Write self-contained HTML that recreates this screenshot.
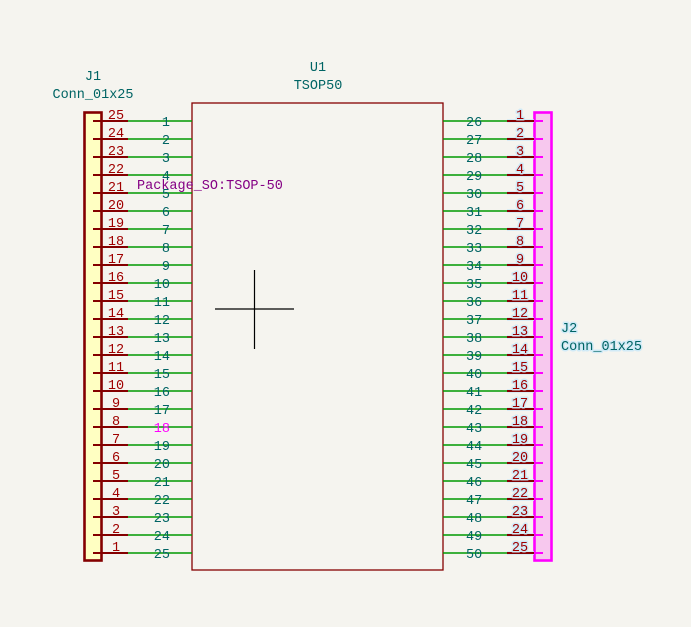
<!DOCTYPE html>
<html><head><meta charset="utf-8"><style>
html,body{margin:0;padding:0;background:#f5f4ef;}
svg{display:block;}
text{font-family:"Liberation Mono",monospace;font-size:13.5px;}
.t{fill:#006464;}
.r{fill:#a00000;}
.h{paint-order:stroke;stroke:#d0eaf7;stroke-width:3px;stroke-linejoin:round;}
</style></head><body>
<svg width="691" height="627" viewBox="0 0 691 627" xmlns="http://www.w3.org/2000/svg">
<rect width="691" height="627" fill="#f5f4ef"/>
<rect x="192" y="103" width="251" height="467" fill="none" stroke="#840000" stroke-width="1.3"/>
<path d="M215 309H294M254.5 270V349" stroke="#000" stroke-width="1.2"/>
<rect x="84.5" y="112.5" width="17" height="448" fill="#ffffc2" stroke="#840000" stroke-width="2.6"/>
<rect x="534.5" y="112.5" width="17" height="448" fill="#f7c8ee" stroke="#ff00ff" stroke-width="2.6"/>
<g id="rows">
<path stroke="#009a00" stroke-width="1.4" fill="none" d="M128 121H192M128 139H192M128 157H192M128 175H192M128 193H192M128 211H192M128 229H192M128 247H192M128 265H192M128 283H192M128 301H192M128 319H192M128 337H192M128 355H192M128 373H192M128 391H192M128 409H192M128 427H192M128 445H192M128 463H192M128 481H192M128 499H192M128 517H192M128 535H192M128 553H192
M443 121H507M443 139H507M443 157H507M443 175H507M443 193H507M443 211H507M443 229H507M443 247H507M443 265H507M443 283H507M443 301H507M443 319H507M443 337H507M443 355H507M443 373H507M443 391H507M443 409H507M443 427H507M443 445H507M443 463H507M443 481H507M443 499H507M443 517H507M443 535H507M443 553H507"/>
<path stroke="#840000" stroke-width="2" fill="none" d="M93 121H128M93 139H128M93 157H128M93 175H128M93 193H128M93 211H128M93 229H128M93 247H128M93 265H128M93 283H128M93 301H128M93 319H128M93 337H128M93 355H128M93 373H128M93 391H128M93 409H128M93 427H128M93 445H128M93 463H128M93 481H128M93 499H128M93 517H128M93 535H128M93 553H128"/>
<path stroke="#d0eaf7" stroke-width="3.5" fill="none" d="M507 121H534M507 139H534M507 157H534M507 175H534M507 193H534M507 211H534M507 229H534M507 247H534M507 265H534M507 283H534M507 301H534M507 319H534M507 337H534M507 355H534M507 373H534M507 391H534M507 409H534M507 427H534M507 445H534M507 463H534M507 481H534M507 499H534M507 517H534M507 535H534M507 553H534"/>
<path stroke="#840000" stroke-width="2" fill="none" d="M507 121H534M507 139H534M507 157H534M507 175H534M507 193H534M507 211H534M507 229H534M507 247H534M507 265H534M507 283H534M507 301H534M507 319H534M507 337H534M507 355H534M507 373H534M507 391H534M507 409H534M507 427H534M507 445H534M507 463H534M507 481H534M507 499H534M507 517H534M507 535H534M507 553H534"/>
<path stroke="#ff00ff" stroke-width="2" fill="none" d="M534 121H543M534 139H543M534 157H543M534 175H543M534 193H543M534 211H543M534 229H543M534 247H543M534 265H543M534 283H543M534 301H543M534 319H543M534 337H543M534 355H543M534 373H543M534 391H543M534 409H543M534 427H543M534 445H543M534 463H543M534 481H543M534 499H543M534 517H543M534 535H543M534 553H543"/>
</g>
<g class="r" text-anchor="middle">
<text x="116" y="119">25</text><text x="116" y="137">24</text><text x="116" y="155">23</text><text x="116" y="173">22</text><text x="116" y="191">21</text><text x="116" y="209">20</text><text x="116" y="227">19</text><text x="116" y="245">18</text><text x="116" y="263">17</text><text x="116" y="281">16</text><text x="116" y="299">15</text><text x="116" y="317">14</text><text x="116" y="335">13</text><text x="116" y="353">12</text><text x="116" y="371">11</text><text x="116" y="389">10</text><text x="116" y="407">9</text><text x="116" y="425">8</text><text x="116" y="443">7</text><text x="116" y="461">6</text><text x="116" y="479">5</text><text x="116" y="497">4</text><text x="116" y="515">3</text><text x="116" y="533">2</text><text x="116" y="551">1</text>
</g>
<g class="t" text-anchor="end">
<text x="170" y="126">1</text><text x="170" y="144">2</text><text x="170" y="162">3</text><text x="170" y="180">4</text><text x="170" y="198">5</text><text x="170" y="216">6</text><text x="170" y="234">7</text><text x="170" y="252">8</text><text x="170" y="270">9</text><text x="170" y="288">10</text><text x="170" y="306">11</text><text x="170" y="324">12</text><text x="170" y="342">13</text><text x="170" y="360">14</text><text x="170" y="378">15</text><text x="170" y="396">16</text><text x="170" y="414">17</text><text x="170" y="432" fill="#ff00ff">18</text><text x="170" y="450">19</text><text x="170" y="468">20</text><text x="170" y="486">21</text><text x="170" y="504">22</text><text x="170" y="522">23</text><text x="170" y="540">24</text><text x="170" y="558">25</text>
</g>
<g class="t">
<text x="466" y="126">26</text><text x="466" y="144">27</text><text x="466" y="162">28</text><text x="466" y="180">29</text><text x="466" y="198">30</text><text x="466" y="216">31</text><text x="466" y="234">32</text><text x="466" y="252">33</text><text x="466" y="270">34</text><text x="466" y="288">35</text><text x="466" y="306">36</text><text x="466" y="324">37</text><text x="466" y="342">38</text><text x="466" y="360">39</text><text x="466" y="378">40</text><text x="466" y="396">41</text><text x="466" y="414">42</text><text x="466" y="432">43</text><text x="466" y="450">44</text><text x="466" y="468">45</text><text x="466" y="486">46</text><text x="466" y="504">47</text><text x="466" y="522">48</text><text x="466" y="540">49</text><text x="466" y="558">50</text>
</g>
<g class="r h" text-anchor="middle">
<text x="520" y="119">1</text><text x="520" y="137">2</text><text x="520" y="155">3</text><text x="520" y="173">4</text><text x="520" y="191">5</text><text x="520" y="209">6</text><text x="520" y="227">7</text><text x="520" y="245">8</text><text x="520" y="263">9</text><text x="520" y="281">10</text><text x="520" y="299">11</text><text x="520" y="317">12</text><text x="520" y="335">13</text><text x="520" y="353">14</text><text x="520" y="371">15</text><text x="520" y="389">16</text><text x="520" y="407">17</text><text x="520" y="425">18</text><text x="520" y="443">19</text><text x="520" y="461">20</text><text x="520" y="479">21</text><text x="520" y="497">22</text><text x="520" y="515">23</text><text x="520" y="533">24</text><text x="520" y="551">25</text>
</g>
<g class="t" text-anchor="middle">
<text x="93" y="80">J1</text><text x="93" y="98">Conn_01x25</text>
<text x="318" y="71">U1</text><text x="318" y="89">TSOP50</text>
</g>
<text x="137" y="189" fill="#840084">Package_SO:TSOP-50</text>
<g class="t h">
<text x="561" y="332">J2</text><text x="561" y="350">Conn_01x25</text>
</g>
</svg>
</body></html>
